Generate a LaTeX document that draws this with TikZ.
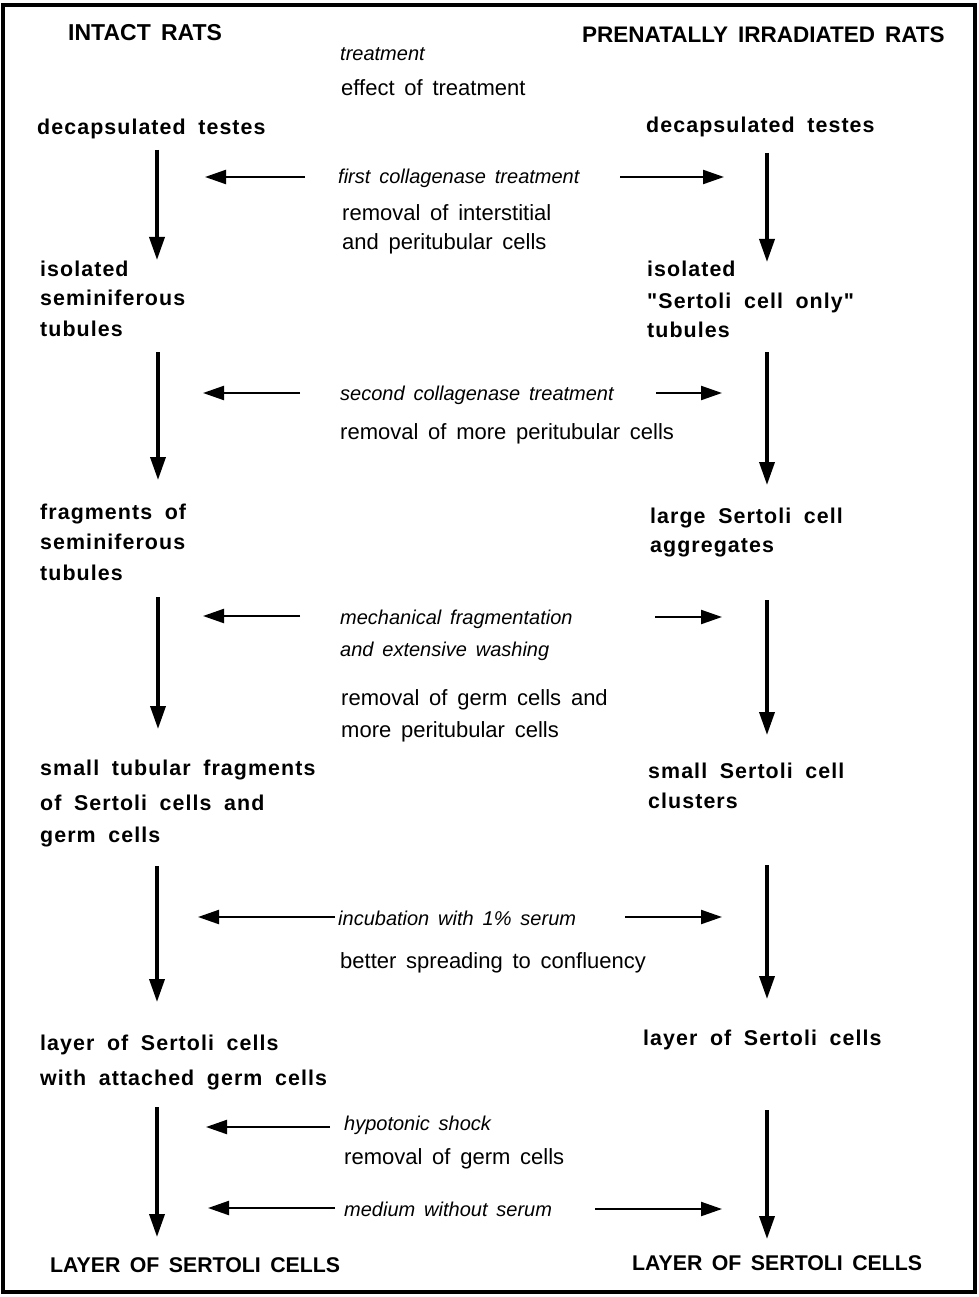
\documentclass[tikz,border=0pt]{standalone}
\usepackage{fontspec}
\setmainfont{Liberation Sans}
\newfontfamily\rgfont[WordSpace=2]{Liberation Sans}
\newfontfamily\itfont[WordSpace=1.2]{Liberation Sans}
\newfontfamily\bxfont[WordSpace=1.8,LetterSpace=5]{Liberation Sans}
\newfontfamily\hdfont[WordSpace=1.6]{Liberation Sans}
\usetikzlibrary{arrows.meta}
\tikzset{
  txt/.style={inner sep=0pt, anchor=base west},
  hd/.style={txt, font=\hdfont\bfseries\fontsize{22.5}{26}\selectfont},
  hdb/.style={txt, font=\hdfont\bfseries\fontsize{21.3}{25}\selectfont},
  bx/.style={txt, font=\bxfont\bfseries\fontsize{21.4}{25}\selectfont},
  rg/.style={txt, font=\rgfont\fontsize{22}{26}\selectfont},
  it/.style={txt, font=\itfont\itshape\fontsize{20}{24}\selectfont},
  varr/.style={line width=3.6pt, -{Triangle[length=23pt,width=15pt]}},
  harr/.style={line width=2.2pt, -{Triangle[length=21pt,width=14pt]}},
}
\begin{document}
\begin{tikzpicture}[x=1pt,y=-1pt]
\useasboundingbox (0,0) rectangle (978,1297);
\draw[line width=4pt] (3,5) rectangle (975,1292);

% headings
\node[hd, font=\hdfont\bfseries\fontsize{23}{27}\selectfont] (hL) at (68,41) {INTACT RATS};
\node[hd] (hR) at (582,43) {PRENATALLY IRRADIATED RATS};
\node[it] (key1) at (340,61) {treatment};
\node[rg] (key2) at (341,96) {effect of treatment};

% left column
\node[bx] (L1) at (37,135) {decapsulated testes};
\node[bx] (L2a) at (40,276) {isolated};
\node[bx] (L2b) at (40,305) {seminiferous};
\node[bx] (L2c) at (40,336) {tubules};
\node[bx] (L3a) at (40,519) {fragments of};
\node[bx] (L3b) at (40,549) {seminiferous};
\node[bx] (L3c) at (40,580) {tubules};
\node[bx] (L4a) at (40,775) {small tubular fragments};
\node[bx] (L4b) at (40,810) {of Sertoli cells and};
\node[bx] (L4c) at (40,842) {germ cells};
\node[bx] (L5a) at (40,1050) {layer of Sertoli cells};
\node[bx] (L5b) at (40,1085) {with attached germ cells};
\node[hdb] (L6) at (50,1272) {LAYER OF SERTOLI CELLS};

% right column
\node[bx] (R1) at (646,133) {decapsulated testes};
\node[bx] (R2a) at (647,276) {isolated};
\node[bx] (R2b) at (647,308) {"Sertoli cell only"};
\node[bx] (R2c) at (647,337) {tubules};
\node[bx] (R3a) at (650,523) {large Sertoli cell};
\node[bx] (R3b) at (650,552) {aggregates};
\node[bx] (R4a) at (648,778) {small Sertoli cell};
\node[bx] (R4b) at (648,808) {clusters};
\node[bx] (R5) at (643,1045) {layer of Sertoli cells};
\node[hdb] (R6) at (632,1270) {LAYER OF SERTOLI CELLS};

% middle texts
\node[it] (t1) at (338,184) {first collagenase treatment};
\node[rg] (e1a) at (342,221) {removal of interstitial};
\node[rg] (e1b) at (342,249) {and peritubular cells};
\node[it] (t2) at (340,400) {second collagenase treatment};
\node[rg] (e2) at (340,439) {removal of more peritubular cells};
\node[it] (t3a) at (340,624) {mechanical fragmentation};
\node[it] (t3b) at (340,656) {and extensive washing};
\node[rg] (e3a) at (341,705) {removal of germ cells and};
\node[rg] (e3b) at (341,737) {more peritubular cells};
\node[it] (t4) at (338,925) {incubation with 1\% serum};
\node[rg] (e4) at (340,968) {better spreading to confluency};
\node[it] (t5) at (344,1130) {hypotonic shock};
\node[rg] (e5) at (344,1164) {removal of germ cells};
\node[it] (t6) at (344,1216) {medium without serum};

% arrow end points
\coordinate (vL1s) at (157,150);  \coordinate (vL1e) at (157,260);
\coordinate (vR1s) at (767,153);  \coordinate (vR1e) at (767,262);
\coordinate (vL2s) at (158,352);  \coordinate (vL2e) at (158,480);
\coordinate (vR2s) at (767,352);  \coordinate (vR2e) at (767,485);
\coordinate (vL3s) at (158,597);  \coordinate (vL3e) at (158,729);
\coordinate (vR3s) at (767,600);  \coordinate (vR3e) at (767,735);
\coordinate (vL4s) at (157,866);  \coordinate (vL4e) at (157,1002);
\coordinate (vR4s) at (767,865);  \coordinate (vR4e) at (767,999);
\coordinate (vL5s) at (157,1107); \coordinate (vL5e) at (157,1237);
\coordinate (vR5s) at (767,1110); \coordinate (vR5e) at (767,1239);

\coordinate (h1ls) at (305,177); \coordinate (h1le) at (205,177);
\coordinate (h1rs) at (620,177); \coordinate (h1re) at (724,177);
\coordinate (h2ls) at (300,393); \coordinate (h2le) at (203,393);
\coordinate (h2rs) at (656,393); \coordinate (h2re) at (722,393);
\coordinate (h3ls) at (300,616); \coordinate (h3le) at (203,616);
\coordinate (h3rs) at (655,617); \coordinate (h3re) at (722,617);
\coordinate (h4ls) at (335,917); \coordinate (h4le) at (198,917);
\coordinate (h4rs) at (625,917); \coordinate (h4re) at (722,917);
\coordinate (h5ls) at (330,1127); \coordinate (h5le) at (206,1127);
\coordinate (h6ls) at (335,1208); \coordinate (h6le) at (208,1208);
\coordinate (h6rs) at (595,1209); \coordinate (h6re) at (722,1209);

\foreach \a in {vL1,vR1,vL2,vR2,vL3,vR3,vL4,vR4,vL5,vR5}
  \draw[varr] (\a s) -- (\a e);
\foreach \a in {h1l,h1r,h2l,h2r,h3l,h3r,h4l,h4r,h5l,h6l,h6r}
  \draw[harr] (\a s) -- (\a e);
\end{tikzpicture}
\end{document}
